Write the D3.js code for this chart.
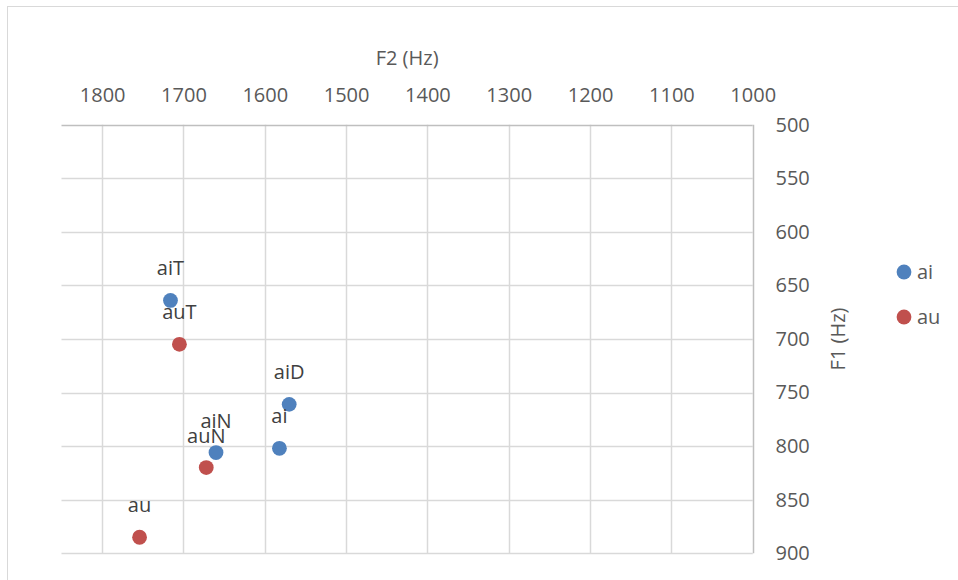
<!DOCTYPE html>
<html>
<head>
<meta charset="utf-8">
<script src="https://cdn.jsdelivr.net/npm/d3@7"></script>
<style>
  html, body { margin: 0; padding: 0; background: #fff; }
  svg { display: block; font-family: "Open Sans", "DejaVu Sans", sans-serif; }
</style>
</head>
<body>
<svg id="chart" width="958" height="580"></svg>
<script>
// Formant measurements (Hz) for the two diphthong series
const aiLabels = ["aiT", "aiD", "ai", "aiN"];
const aiF2 = [1716, 1570, 1582, 1660];
const aiF1 = [664, 761, 802, 806];

const auLabels = ["auT", "auN", "au"];
const auF2 = [1705, 1672, 1754];
const auF1 = [705, 820, 885];

const xTicks = [1800, 1700, 1600, 1500, 1400, 1300, 1200, 1100, 1000];
const yTicks = [500, 550, 600, 650, 700, 750, 800, 850, 900];

const seriesNames = ["ai", "au"];
const seriesColors = ["#4F81BD", "#C0504D"];

const series = [
  { name: seriesNames[0], color: seriesColors[0],
    points: aiLabels.map((l, i) => ({ label: l, f2: aiF2[i], f1: aiF1[i] })) },
  { name: seriesNames[1], color: seriesColors[1],
    points: auLabels.map((l, i) => ({ label: l, f2: auF2[i], f1: auF1[i] })) }
];

const FONT = "20px";
const svg = d3.select("#chart");

// Outer chart frame
svg.append("rect")
  .attr("x", 7.5).attr("y", 6.5)
  .attr("width", 1000).attr("height", 1000)
  .attr("fill", "none").attr("stroke", "#d9d9d9").attr("stroke-width", 1);

const plot = { left: 61.5, right: 752.7, top: 124.7, bottom: 553.3 };

// F2 runs right-to-left, F1 runs top-to-bottom (vowel chart orientation)
const x = d3.scaleLinear().domain([1850, 1000]).range([plot.left, plot.right]);
const y = d3.scaleLinear().domain([500, 900]).range([plot.top, plot.bottom]);

// Gridlines
const grid = svg.append("g");
grid.selectAll("line.v").data(xTicks.filter(t => t !== 1000)).join("line")
  .attr("x1", d => Math.round(x(d)) + 0.5).attr("x2", d => Math.round(x(d)) + 0.5)
  .attr("y1", plot.top).attr("y2", plot.bottom)
  .attr("stroke", "#d9d9d9").attr("stroke-width", 1.5);
grid.selectAll("line.h").data(yTicks.filter(t => t !== 500)).join("line")
  .attr("x1", plot.left).attr("x2", plot.right)
  .attr("y1", d => Math.round(y(d)) + 0.5).attr("y2", d => Math.round(y(d)) + 0.5)
  .attr("stroke", "#d9d9d9").attr("stroke-width", 1.5);

// Axis lines (top = F2, right = F1)
const xAxis = d3.axisTop(x).tickValues(xTicks).tickFormat(d3.format("d")).tickSize(0).tickPadding(24);
const gx = svg.append("g").attr("transform", `translate(0,${Math.round(plot.top) + 0.5})`).call(xAxis);
gx.select(".domain").attr("stroke", "#bfbfbf").attr("stroke-width", 1.5)
  .attr("d", `M${plot.left},0H${plot.right}`);
gx.selectAll("text").attr("fill", "#595959").style("font-size", FONT)
  .style("font-family", "'Open Sans', sans-serif");

const yAxis = d3.axisRight(y).tickValues(yTicks).tickFormat(d3.format("d")).tickSize(0).tickPadding(22);
const gy = svg.append("g").attr("transform", `translate(${Math.round(plot.right) + 0.5},0)`).call(yAxis);
gy.select(".domain").attr("stroke", "#bfbfbf").attr("stroke-width", 1.5)
  .attr("d", `M0,${plot.top}V${plot.bottom}`);
gy.selectAll("text").attr("fill", "#595959").style("font-size", FONT)
  .style("font-family", "'Open Sans', sans-serif");

// Axis titles
svg.append("text")
  .attr("x", (plot.left + plot.right) / 2).attr("y", 65)
  .attr("text-anchor", "middle").attr("fill", "#595959")
  .style("font-size", FONT).text("F2 (Hz)");
svg.append("text")
  .attr("transform", `translate(845,${(plot.top + plot.bottom) / 2}) rotate(-90)`)
  .attr("text-anchor", "middle").attr("fill", "#595959")
  .style("font-size", FONT).text("F1 (Hz)");

// Markers and data labels
series.forEach(s => {
  const g = svg.append("g");
  g.selectAll("circle").data(s.points).join("circle")
    .attr("cx", d => x(d.f2)).attr("cy", d => y(d.f1))
    .attr("r", 7.4).attr("fill", s.color);
  g.selectAll("text").data(s.points).join("text")
    .attr("x", d => x(d.f2)).attr("y", d => y(d.f1) - 25)
    .attr("text-anchor", "middle").attr("fill", "#404040")
    .style("font-size", FONT).text(d => d.label);
});

// Legend
const legend = svg.append("g");
series.forEach((s, i) => {
  const ly = 272 + i * 45;
  legend.append("circle").attr("cx", 904).attr("cy", ly).attr("r", 7.4).attr("fill", s.color);
  legend.append("text").attr("x", 917).attr("y", ly).attr("dy", "0.35em")
    .attr("fill", "#595959").style("font-size", FONT).text(s.name);
});
</script>
</body>
</html>
